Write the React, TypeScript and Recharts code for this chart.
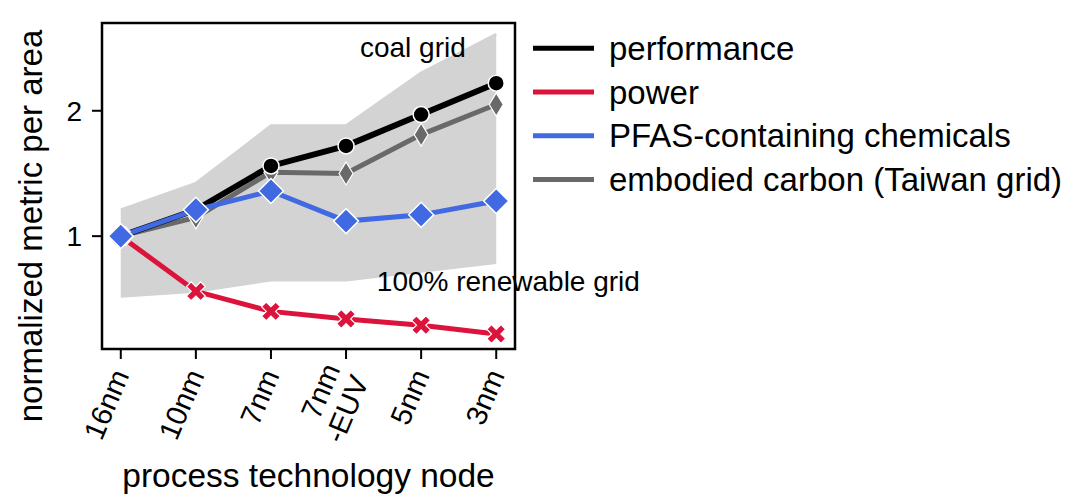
import React from 'react';
import {
  ComposedChart,
  Line,
  Area,
  XAxis,
  YAxis,
  ReferenceArea,
  ReferenceDot,
} from 'recharts';

const nodes = ['16nm', '10nm', '7nm', '7nm\n-EUV', '5nm', '3nm'];
const performance = [1.0, 1.21, 1.56, 1.72, 1.97, 2.22];
const power = [1.0, 0.56, 0.4, 0.34, 0.29, 0.22];
const pfas = [1.0, 1.21, 1.36, 1.12, 1.17, 1.28];
const embodied = [1.0, 1.15, 1.51, 1.5, 1.81, 2.05];
const coalGrid = [1.21, 1.42, 1.88, 1.88, 2.3, 2.61];
const renewableGrid = [0.52, 0.56, 0.65, 0.65, 0.72, 0.79];
const yTicks = [1, 2];

const legendItems = [
  { name: 'performance', color: '#000000' },
  { name: 'power', color: '#dc143c' },
  { name: 'PFAS-containing chemicals', color: '#4169e1' },
  { name: 'embodied carbon (Taiwan grid)', color: '#696969' },
];

const data = nodes.map((node, i) => ({
  x: i,
  node,
  performance: performance[i],
  power: power[i],
  pfas: pfas[i],
  embodied: embodied[i],
  band: [renewableGrid[i], coalGrid[i]],
}));

const FONT = '"Liberation Sans", Arial, Helvetica, sans-serif';

const CircleDot = (p: any) => (
  <circle key={p.index} cx={p.cx} cy={p.cy} r={8} fill="#000" stroke="#fff" strokeWidth={1.5} />
);

const BigDiamond = (p: any) => {
  const s = 12.5;
  return (
    <polygon
      key={p.index}
      points={`${p.cx},${p.cy - s} ${p.cx + s},${p.cy} ${p.cx},${p.cy + s} ${p.cx - s},${p.cy}`}
      fill="#4169e1"
      stroke="#fff"
      strokeWidth={1.5}
    />
  );
};

const ThinDiamond = (p: any) => {
  const w = 7;
  const h = 11.5;
  return (
    <polygon
      key={p.index}
      points={`${p.cx},${p.cy - h} ${p.cx + w},${p.cy} ${p.cx},${p.cy + h} ${p.cx - w},${p.cy}`}
      fill="#696969"
      stroke="#fff"
      strokeWidth={1.2}
    />
  );
};

// filled "X" marker: a plus sign turned by 45 degrees
const plus = [
  [3.3, 10], [3.3, 3.3], [10, 3.3], [10, -3.3], [3.3, -3.3], [3.3, -10],
  [-3.3, -10], [-3.3, -3.3], [-10, -3.3], [-10, 3.3], [-3.3, 3.3], [-3.3, 10],
];
const XDot = (p: any) => {
  const c = Math.SQRT1_2;
  const pts = plus
    .map(([a, b]) => `${p.cx + (a - b) * c},${p.cy + (a + b) * c}`)
    .join(' ');
  return <polygon key={p.index} points={pts} fill="#dc143c" stroke="#fff" strokeWidth={1.2} />;
};

const XTick = (props: any) => {
  const { x, y, payload } = props;
  const lines = String(nodes[payload.value] ?? '').split('\n');
  const lh = 31;
  return (
    <g transform={`translate(${x + 9},${y})`}>
      <text
        transform="rotate(-67)"
        textAnchor="end"
        fontSize={29}
        fontFamily={FONT}
        fill="#000"
      >
        {lines.map((l, i) => (
          <tspan key={i} x={0} y={(i - (lines.length - 1) / 2) * lh}>
            {l}
          </tspan>
        ))}
      </text>
    </g>
  );
};

const App = () => {
  return (
    <div style={{ position: 'relative', width: 1080, height: 504, background: '#fff' }}>
      <style>{'body{margin:0}'}</style>
      <ComposedChart
        width={1080}
        height={504}
        data={data}
        margin={{ top: 23, right: 565, bottom: 0, left: 0 }}
      >
        <XAxis
          dataKey="x"
          type="number"
          domain={[-0.25, 5.25]}
          ticks={[0, 1, 2, 3, 4, 5]}
          allowDataOverflow
          height={155}
          axisLine={false}
          tickLine={{ stroke: '#000', strokeWidth: 2 }}
          tickSize={10}
          tickMargin={16}
          tick={<XTick />}
          interval={0}
          label={(props: any) => {
            const vb = props.viewBox;
            return (
              <text
                x={vb.x + vb.width / 2}
                y={487}
                textAnchor="middle"
                fontSize={33.5}
                fontFamily={FONT}
                fill="#000"
              >
                process technology node
              </text>
            );
          }}
        />
        <YAxis
          type="number"
          domain={[0.1, 2.7]}
          ticks={yTicks}
          allowDataOverflow
          width={102}
          axisLine={false}
          tickLine={{ stroke: '#000', strokeWidth: 2 }}
          tickSize={10}
          tickMargin={10}
          tick={{ fontSize: 28, fontFamily: FONT, fill: '#000' }}
          label={() => (
            <text
              x={42}
              y={226}
              transform="rotate(-90, 42, 226)"
              textAnchor="middle"
              fontSize={33}
              fontFamily={FONT}
              fill="#000"
            >
              normalized metric per area
            </text>
          )}
        />
        <Area
          dataKey="band"
          type="linear"
          fill="#d3d3d3"
          fillOpacity={1}
          stroke="#d3d3d3"
          strokeWidth={3}
          isAnimationActive={false}
          dot={false}
          activeDot={false}
        />
        <Line
          dataKey="embodied"
          type="linear"
          stroke="#696969"
          strokeWidth={5}
          dot={ThinDiamond}
          activeDot={false}
          isAnimationActive={false}
        />
        <Line
          dataKey="performance"
          type="linear"
          stroke="#000"
          strokeWidth={6}
          dot={CircleDot}
          activeDot={false}
          isAnimationActive={false}
        />
        <Line
          dataKey="power"
          type="linear"
          stroke="#dc143c"
          strokeWidth={5}
          dot={XDot}
          activeDot={false}
          isAnimationActive={false}
        />
        <Line
          dataKey="pfas"
          type="linear"
          stroke="#4169e1"
          strokeWidth={5}
          dot={BigDiamond}
          activeDot={false}
          isAnimationActive={false}
        />
        <ReferenceDot
          x={3.89}
          y={2.5}
          ifOverflow="visible"
          shape={(p: any) => (
            <text
              x={p.cx}
              y={p.cy + 9}
              textAnchor="middle"
              fontSize={28}
              fontFamily={FONT}
              fill="#000"
            >
              coal grid
            </text>
          )}
        />
        <ReferenceDot
          x={3.41}
          y={0.633}
          ifOverflow="visible"
          shape={(p: any) => (
            <text
              x={p.cx}
              y={p.cy + 9}
              textAnchor="start"
              fontSize={28}
              fontFamily={FONT}
              fill="#000"
            >
              100% renewable grid
            </text>
          )}
        />
        <ReferenceArea
          x1={-0.25}
          x2={5.25}
          y1={0.1}
          y2={2.7}
          fill="none"
          stroke="#000"
          strokeWidth={2.5}
          ifOverflow="visible"
        />
      </ComposedChart>
      <svg
        width={547}
        height={210}
        style={{ position: 'absolute', left: 533, top: 0 }}
      >
        {legendItems.map((item, i) => {
          const cy = 48.3 + i * 43.7;
          return (
            <g key={item.name}>
              <line x1={0} x2={61} y1={cy} y2={cy} stroke={item.color} strokeWidth={5} />
              <text
                x={76}
                y={cy + 11.5}
                fontSize={33}
                fontFamily={FONT}
                fill="#000"
              >
                {item.name}
              </text>
            </g>
          );
        })}
      </svg>
    </div>
  );
};

export default App;
